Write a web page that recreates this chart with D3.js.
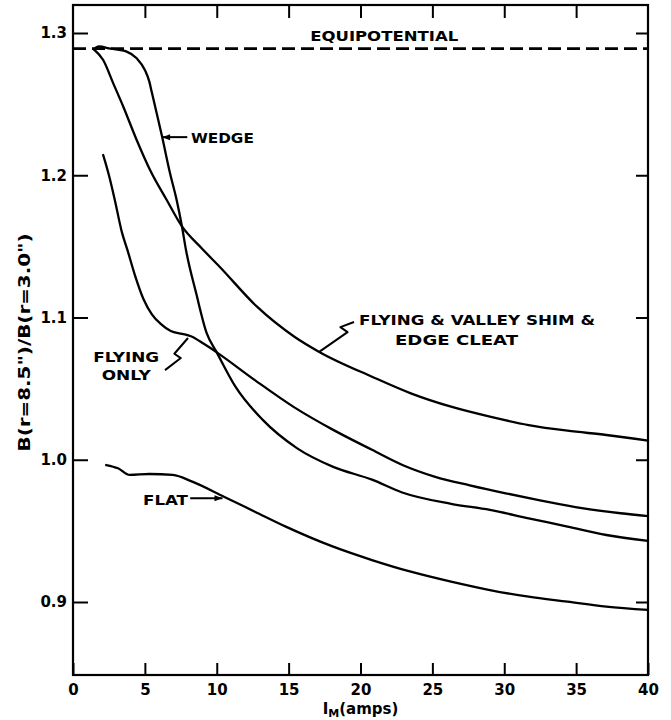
<!DOCTYPE html>
<html>
<head>
<meta charset="utf-8">
<script src="https://cdn.jsdelivr.net/npm/d3@7"></script>
<style>
  html, body { margin: 0; padding: 0; background: #fff; }
  svg { display: block; }
  text { font-family: "DejaVu Sans", sans-serif; fill: #000; }
</style>
</head>
<body>
<svg id="chart" width="671" height="720"></svg>
<script>
// ---- data ----
const xTicks = [0, 5, 10, 15, 20, 25, 30, 35, 40];
const yTicks = [0.9, 1.0, 1.1, 1.2, 1.3];
const equipotential = 1.289;

const wedge = [
  [1.45, 1.2885], [1.8, 1.2905], [2.6, 1.289], [3.73, 1.2869], [4.43, 1.2822],
  [5.0, 1.274], [5.31, 1.2658], [5.47, 1.2588], [6.2, 1.227], [6.75, 1.2014],
  [7.21, 1.1826], [7.58, 1.164], [7.86, 1.1475], [8.57, 1.117], [9.3, 1.089],
  [10.0, 1.0755], [11.3, 1.0514], [13.2, 1.028], [15.6, 1.008], [18.1, 0.995],
  [20.8, 0.986], [22.9, 0.977], [26.3, 0.969], [29.0, 0.9647], [31.7, 0.9588],
  [34.4, 0.953], [37.1, 0.9471], [40, 0.943]
];

const flyingValley = [
  [1.45, 1.2885], [2.1, 1.281], [2.8, 1.2646], [3.5, 1.2482], [4.43, 1.2248],
  [5.36, 1.2037], [6.52, 1.1826], [7.58, 1.164], [8.95, 1.1487], [10.2, 1.1357],
  [12.8, 1.1076], [15.4, 1.0865], [17.1, 1.076], [20.8, 1.0584], [23.5, 1.0467],
  [26.3, 1.0373], [29.0, 1.0303], [31.7, 1.0244], [34.4, 1.0204], [37.1, 1.0174],
  [40, 1.0134]
];

const flyingOnly = [
  [2.1, 1.2142], [2.5, 1.2], [2.9, 1.183], [3.4, 1.16], [3.8, 1.147],
  [4.3, 1.13], [4.9, 1.113], [5.5, 1.102], [6.1, 1.0955], [6.8, 1.0905],
  [7.6, 1.0885], [8.2, 1.0868], [9.1, 1.0815], [10.0, 1.0755], [12.65, 1.056],
  [15.37, 1.037], [18.1, 1.021], [20.8, 1.007], [23.0, 0.996], [25.2, 0.988],
  [27.6, 0.982], [30.1, 0.9764], [32.4, 0.9717], [35.4, 0.966], [38.1, 0.9624],
  [40, 0.9604]
];

const flat = [
  [2.31, 0.9963], [3.13, 0.994], [3.95, 0.9893], [5.3, 0.99], [6.94, 0.9893],
  [8.3, 0.9846], [10.5, 0.974], [12.65, 0.9635], [14.8, 0.953], [18.1, 0.9389],
  [20.8, 0.9295], [23.5, 0.9213], [26.3, 0.9143], [29.0, 0.9084], [31.7, 0.9037],
  [34.4, 0.9002], [37.1, 0.8967], [40, 0.8944]
];

const seriesLabels = {
  equip: "EQUIPOTENTIAL",
  wedge: "WEDGE",
  fv1: "FLYING & VALLEY SHIM &",
  fv2: "EDGE CLEAT",
  fo1: "FLYING",
  fo2: "ONLY",
  flat: "FLAT"
};
const yTitle = 'B(r=8.5")/B(r=3.0")';

// ---- drawing ----
const svg = d3.select("#chart");
svg.append("rect").attr("width", 671).attr("height", 720).attr("fill", "#fff");

const x = d3.scaleLinear().domain([0, 40]).range([73, 648]);
const y = d3.scaleLinear().domain([0.9, 1.3]).range([602, 33]);
const frameTop = 5, frameBottom = 675;

// frame
svg.append("rect")
  .attr("x", x(0)).attr("y", frameTop)
  .attr("width", x(40) - x(0)).attr("height", frameBottom - frameTop)
  .attr("fill", "none").attr("stroke", "#000").attr("stroke-width", 2.2);

// left axis
const gL = svg.append("g").attr("transform", `translate(${x(0)},0)`)
  .call(d3.axisLeft(y).tickValues(yTicks).tickFormat(d3.format(".1f"))
    .tickSizeInner(-15).tickSizeOuter(0).tickPadding(6));
// bottom axis
const gB = svg.append("g").attr("transform", `translate(0,${frameBottom})`)
  .call(d3.axisBottom(x).tickValues(xTicks).tickFormat(d3.format("d"))
    .tickSizeInner(-12).tickSizeOuter(0).tickPadding(9));
// right axis (ticks only)
const gR = svg.append("g").attr("transform", `translate(${x(40)},0)`)
  .call(d3.axisRight(y).tickValues(yTicks).tickFormat("")
    .tickSizeInner(-12).tickSizeOuter(0));
// top axis (ticks only)
const gT = svg.append("g").attr("transform", `translate(0,${frameTop})`)
  .call(d3.axisTop(x).tickValues(xTicks.slice(1, -1)).tickFormat("")
    .tickSizeInner(-13).tickSizeOuter(0));

[gL, gB, gR, gT].forEach(g => {
  g.select(".domain").remove();
  g.selectAll(".tick line").attr("stroke", "#000").attr("stroke-width", 2);
  g.selectAll(".tick text").attr("fill", "#000")
    .style("font-family", '"DejaVu Sans", sans-serif')
    .style("font-size", "15px").style("font-weight", "bold");
});

// axis titles
svg.append("text")
  .attr("transform", `translate(30,${(y(1.3) + y(0.9)) / 2 + 25}) rotate(-90)`)
  .attr("text-anchor", "middle")
  .style("font-size", "16px").style("font-weight", "bold")
  .attr("textLength", 218).attr("lengthAdjust", "spacingAndGlyphs")
  .text(yTitle);

const xt = svg.append("text")
  .attr("x", (x(0) + x(40)) / 2).attr("y", 714)
  .attr("text-anchor", "middle")
  .style("font-size", "15px").style("font-weight", "bold");
xt.append("tspan").text("I");
xt.append("tspan").attr("baseline-shift", "-30%").style("font-size", "11px").text("M");
xt.append("tspan").text("(amps)");

// equipotential dashed line
svg.append("line")
  .attr("x1", x(0)).attr("x2", x(40))
  .attr("y1", y(equipotential)).attr("y2", y(equipotential))
  .attr("stroke", "#000").attr("stroke-width", 2.6)
  .attr("stroke-dasharray", "13,6");

// curves
const line = d3.line().x(d => x(d[0])).y(d => y(d[1])).curve(d3.curveMonotoneX);
[wedge, flyingValley, flyingOnly, flat].forEach(s => {
  svg.append("path").datum(s).attr("d", line)
    .attr("fill", "none").attr("stroke", "#000")
    .attr("stroke-width", 2.3).attr("stroke-linejoin", "round").attr("stroke-linecap", "round");
});

// labels
function label(txt, dx, dy, anchor, len) {
  const t = svg.append("text")
    .attr("x", x(dx)).attr("y", y(dy)).attr("dy", "0.36em")
    .attr("text-anchor", anchor || "start")
    .style("font-size", "14px").style("font-weight", "bold").text(txt);
  if (len) t.attr("textLength", len).attr("lengthAdjust", "spacingAndGlyphs");
  return t;
}
label(seriesLabels.equip, 16.5, 1.298, "start", 148);
label(seriesLabels.wedge, 8.2, 1.2265, "start", 63);
label(seriesLabels.fv1, 19.9, 1.0985, "start", 236);
label(seriesLabels.fv2, 22.4, 1.0845, "start", 123);
label(seriesLabels.fo1, 3.7, 1.0722, "middle", 66);
label(seriesLabels.fo2, 3.7, 1.0595, "middle", 49);
label(seriesLabels.flat, 4.87, 0.9717, "start", 45);

// pointers
const pointer = pts => svg.append("path")
  .attr("d", d3.line()(pts.map(p => [x(p[0]), y(p[1])])))
  .attr("fill", "none").attr("stroke", "#000").attr("stroke-width", 2)
  .attr("stroke-linejoin", "round");
function arrowHead(px, py, dir) {
  const X = x(px), Y = y(py);
  svg.append("path")
    .attr("d", `M${X},${Y} L${X - dir * 8},${Y - 3} L${X - dir * 8},${Y + 3} Z`)
    .attr("fill", "#000");
}
// WEDGE
pointer([[6.2, 1.2268], [7.95, 1.2268]]);
arrowHead(6.2, 1.2268, -1);
// FLAT
pointer([[8.15, 0.973], [10.4, 0.973]]);
arrowHead(10.4, 0.973, 1);
// Flying & valley squiggle
pointer([[19.55, 1.0968], [18.6, 1.0932], [19.1, 1.0897], [17.1, 1.0757]]);
// Flying only squiggle
pointer([[6.4, 1.063], [7.5, 1.0715], [7.05, 1.0745], [8.0, 1.0856]]);
</script>
</body>
</html>
